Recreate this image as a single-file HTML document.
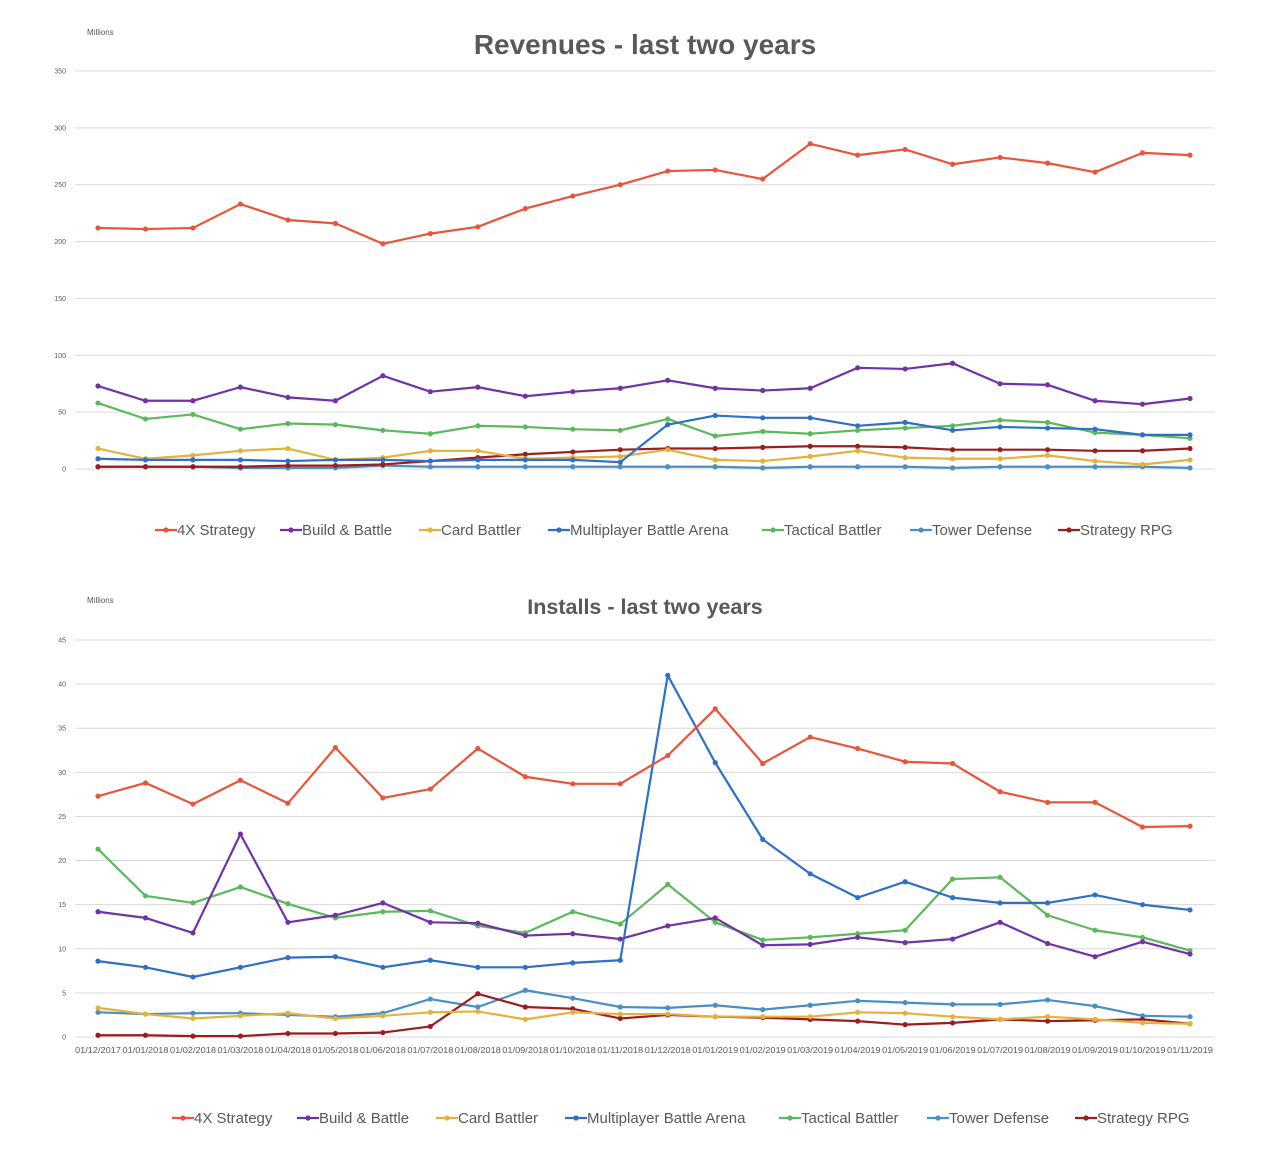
<!DOCTYPE html>
<html><head><meta charset="utf-8"><style>
html,body{margin:0;padding:0;background:#fff;}
svg{display:block;font-family:"Liberation Sans",sans-serif;}
</style></head><body>
<svg id="c" width="1270" height="1152" viewBox="0 0 1270 1152"></svg>
<script>
const seriesNames=["4X Strategy","Build & Battle","Card Battler","Multiplayer Battle Arena","Tactical Battler","Tower Defense","Strategy RPG"];
const colors=["#e8553a","#7132a6","#e3b23c","#2f6fc6","#5cb85c","#4a8fc4","#9b1d1d"];
const dates=["01/12/2017","01/01/2018","01/02/2018","01/03/2018","01/04/2018","01/05/2018","01/06/2018","01/07/2018","01/08/2018","01/09/2018","01/10/2018","01/11/2018","01/12/2018","01/01/2019","01/02/2019","01/03/2019","01/04/2019","01/05/2019","01/06/2019","01/07/2019","01/08/2019","01/09/2019","01/10/2019","01/11/2019"];
const revTicks=[0,50,100,150,200,250,300,350];
const insTicks=[0,5,10,15,20,25,30,35,40,45];
const rev4X=[212,211,212,233,219,216,198,207,213,229,240,250,262,263,255,286,276,281,268,274,269,261,278,276];
const revBuild=[73,60,60,72,63,60,82,68,72,64,68,71,78,71,69,71,89,88,93,75,74,60,57,62];
const revCard=[18,9,12,16,18,8,10,16,16,9,10,11,17,8,7,11,16,10,9,9,12,7,4,8];
const revMBA=[9,8,8,8,7,8,8,7,8,8,8,6,39,47,45,45,38,41,34,37,36,35,30,30];
const revTact=[58,44,48,35,40,39,34,31,38,37,35,34,44,29,33,31,34,36,38,43,41,32,30,27];
const revTower=[2,2,2,1,1,1,3,2,2,2,2,2,2,2,1,2,2,2,1,2,2,2,2,1];
const revRPG=[2,2,2,2,3,3,4,7,10,13,15,17,18,18,19,20,20,19,17,17,17,16,16,18];
const ins4X=[27.3,28.8,26.4,29.1,26.5,32.8,27.1,28.1,32.7,29.5,28.7,28.7,31.9,37.2,31,34,32.7,31.2,31,27.8,26.6,26.6,23.8,23.9];
const insBuild=[14.2,13.5,11.8,23,13,13.8,15.2,13,12.9,11.5,11.7,11.1,12.6,13.5,10.4,10.5,11.3,10.7,11.1,13,10.6,9.1,10.8,9.4];
const insCard=[3.3,2.6,2.1,2.4,2.7,2.1,2.4,2.8,2.9,2,2.8,2.6,2.6,2.3,2.3,2.3,2.8,2.7,2.3,2,2.3,2,1.6,1.5];
const insMBA=[8.6,7.9,6.8,7.9,9,9.1,7.9,8.7,7.9,7.9,8.4,8.7,41,31.1,22.4,18.5,15.8,17.6,15.8,15.2,15.2,16.1,15,14.4];
const insTact=[21.3,16,15.2,17,15.1,13.5,14.2,14.3,12.6,11.8,14.2,12.8,17.3,13,11,11.3,11.7,12.1,17.9,18.1,13.8,12.1,11.3,9.8];
const insTower=[2.8,2.6,2.7,2.7,2.5,2.3,2.7,4.3,3.4,5.3,4.4,3.4,3.3,3.6,3.1,3.6,4.1,3.9,3.7,3.7,4.2,3.5,2.4,2.3];
const insRPG=[0.2,0.2,0.1,0.1,0.4,0.4,0.5,1.2,4.9,3.4,3.2,2.1,2.5,2.3,2.2,2,1.8,1.4,1.6,2,1.8,1.9,2,1.5];

const NS="http://www.w3.org/2000/svg";
const svg=document.getElementById('c');
function mk(tag,attrs,parent){const e=document.createElementNS(NS,tag);for(const k in attrs)e.setAttribute(k,attrs[k]);(parent||svg).appendChild(e);return e;}
const legOffsets=[0,125,264,393,607,755,903];

function chart(cfg){
  const g=mk('g',{});
  
  
  const x0=98,x1=1190;
  const xs=i=>x0+(x1-x0)*i/(dates.length-1);
  const ys=v=>cfg.y0-(cfg.y0-cfg.yTop)*v/cfg.max;
  const t=mk('text',{x:645,y:cfg.titleY,'text-anchor':'middle','font-size':cfg.titleSize,'font-weight':'bold',fill:'#595959'},g);
  t.textContent=cfg.title;
  
  
  const u=mk('text',{x:87,y:cfg.unitY,'font-size':8,fill:'#595959'},g);
  u.textContent='Millions';
  
  
  cfg.ticks.forEach(tv=>{
    const y=ys(tv);
    const l=mk('line',{x1:75,x2:1215,y1:y,y2:y,stroke:'#d9d9d9','stroke-width':1},g);
    
    
    const tx=mk('text',{x:66,y:y+2.5,'text-anchor':'end','font-size':7,fill:'#595959'},g);
    tx.textContent=tv;
    
    
  });
  if(cfg.dateLabels){
    dates.forEach((d,i)=>{
      const tx=mk('text',{x:xs(i),y:cfg.y0+16,'text-anchor':'middle','font-size':8,fill:'#595959',textLength:46,lengthAdjust:'spacingAndGlyphs'},g);
      tx.textContent=d;
      
      
    });
  }
  const order=[5,6,2,4,1,3,0];
  order.forEach(si=>{
    const data=cfg.data[si];
    const s=mk('g',{},g);
    
    
    mk('polyline',{points:data.map((v,i)=>xs(i)+','+ys(v)).join(' '),fill:'none',stroke:colors[si],'stroke-width':2.2,'stroke-linejoin':'round'},s);
    data.forEach((v,i)=>{
      const c=mk('circle',{cx:xs(i),cy:ys(v),r:2.6,fill:colors[si]},s);
      
      
    });
  });
  seriesNames.forEach((n,si)=>{
    const lx=cfg.legX+legOffsets[si];
    const le=mk('g',{},g);
    
    
    mk('line',{x1:lx,x2:lx+22,y1:cfg.legY,y2:cfg.legY,stroke:colors[si],'stroke-width':2.2},le);
    mk('circle',{cx:lx+11,cy:cfg.legY,r:2.6,fill:colors[si]},le);
    const tx=mk('text',{x:lx+22,y:cfg.legY+5,'font-size':15,fill:'#595959'},le);
    tx.textContent=n;
  });
}
chart({name:'revenues-chart',title:'Revenues - last two years',titleSize:28,titleY:54,unitY:35,y0:469,yTop:71,max:350,ticks:revTicks,
  data:[rev4X,revBuild,revCard,revMBA,revTact,revTower,revRPG],dateLabels:false,legX:155,legY:530});
chart({name:'installs-chart',title:'Installs - last two years',titleSize:21.5,titleY:614,unitY:603,y0:1037,yTop:640,max:45,ticks:insTicks,
  data:[ins4X,insBuild,insCard,insMBA,insTact,insTower,insRPG],dateLabels:true,legX:172,legY:1118});
</script>
</body></html>
